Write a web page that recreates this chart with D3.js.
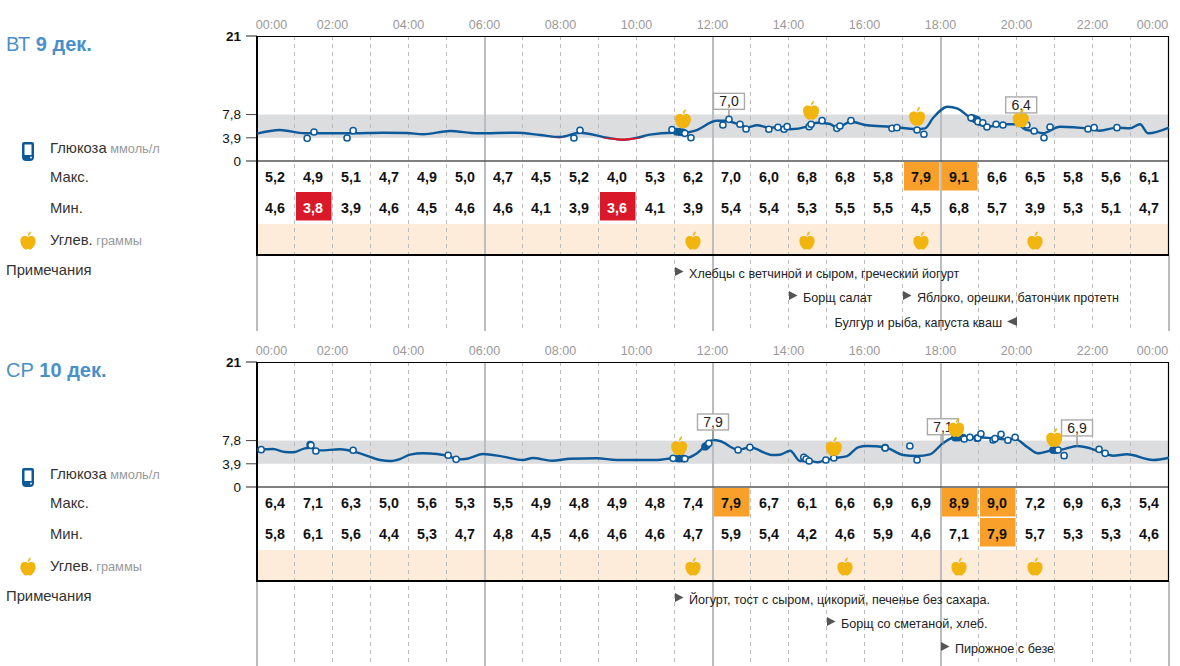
<!DOCTYPE html>
<html><head><meta charset="utf-8">
<script src="https://cdn.jsdelivr.net/npm/d3@7/dist/d3.min.js"></script>
<style>
html,body{margin:0;padding:0;background:#fff;overflow:hidden}
text{font-family:"Liberation Sans",Arial,sans-serif}
</style></head><body><svg id="c" width="1180" height="666"></svg>
<script>
const timeLabels=["00:00","02:00","04:00","06:00","08:00","10:00","12:00","14:00","16:00","18:00","20:00","22:00","00:00"];
const yTicks=[{v:21,t:"21",b:true},{v:7.8,t:"7,8"},{v:3.9,t:"3,9"},{v:0,t:"0"}];

const dayA="ВТ", dateA="9 дек.";
const maxA=[5.2,4.9,5.1,4.7,4.9,5.0,4.7,4.5,5.2,4.0,5.3,6.2,7.0,6.0,6.8,6.8,5.8,7.9,9.1,6.6,6.5,5.8,5.6,6.1];
const minA=[4.6,3.8,3.9,4.6,4.5,4.6,4.6,4.1,3.9,3.6,4.1,3.9,5.4,5.4,5.3,5.5,5.5,4.5,6.8,5.7,3.9,5.3,5.1,4.7];
const lineA=[[0,4.59],[.6,5.2],[1.26,4.65],[1.84,4.65],[2.45,4.65],[3.32,4.75],[3.95,4.7],[4.37,4.49],[5.08,5.04],[5.79,4.65],[6.84,4.75],[7.45,4.37],[7.97,4.03],[8.5,4.75],[9.21,3.91],[9.63,3.58],[10,3.91],[10.34,4.42],[10.95,4.75],[11.26,4.75],[11.53,5.09],[12.1,6.77],[12.32,6.77],[12.71,6.05],[12.89,5.66],[13.16,6.0],[13.47,5.6],[13.71,5.66],[14.03,5.33],[14.47,5.76],[14.74,6.43],[15.08,6.22],[15.26,5.6],[15.63,6.6],[16.05,6.0],[16.66,5.76],[17.37,5.38],[17.58,5.49],[17.79,7.22],[18.18,9.12],[18.42,8.85],[18.76,7.27],[19.03,6.05],[19.21,5.76],[19.63,6.17],[20,6.17],[20.21,5.33],[20.42,5.04],[20.68,4.65],[21.13,5.76],[21.84,5.49],[22.18,5.09],[22.63,5.6],[22.97,5.49],[23.24,6.17],[23.45,4.65],[24,5.6]];
const readingsA=[[1.32,3.81],[1.5,4.87],[2.37,3.86],[2.53,5.09],[8.34,3.86],[8.5,5.16],[10.92,5.26],[11.26,4.65],[11.42,3.91],[12.26,6.05],[12.42,7.0],[12.71,6.17],[12.87,5.38],[13.47,5.33],[13.71,5.66],[13.87,5.33],[13.95,5.76],[14.53,5.76],[14.58,6.17],[14.87,6.77],[15.26,5.49],[15.34,5.88],[15.63,6.77],[16.71,5.49],[16.84,5.6],[17.37,5.21],[17.55,4.49],[18.79,7.27],[18.97,6.6],[19.1,6.43],[19.21,5.71],[19.45,6.17],[19.63,6.05],[20.26,6.05],[20.45,5.04],[20.71,3.91],[20.87,5.71],[21.87,5.38],[22.03,5.6],[22.63,5.6]];
const scansA=[[11.05,4.92],[11.13,4.87],[11.21,4.82],[18.82,7.22],[18.89,7.06],[18.95,6.89]];
const calloutsA=[[12.42,7.0,"7,0"],[20.11,6.4,"6,4"]];
const mealsA=[[11.21,7.2],[14.58,8.6],[17.37,7.6],[20.1,7.3]];
const carbColsA=[11,14,17,20];
const notesA=[[11,1,"Хлебцы с ветчиной и сыром, греческий йогурт",0],[14,2,"Борщ салат",0],[17,2,"Яблоко, орешки, батончик протетн",0],[20,3,"Булгур и рыба, капуста кваш",1]];

const dayB="СР", dateB="10 дек.";
const maxB=[6.4,7.1,6.3,5.0,5.6,5.3,5.5,4.9,4.8,4.9,4.8,7.4,7.9,6.7,6.1,6.6,6.9,6.9,8.9,9.0,7.2,6.9,6.3,5.4];
const minB=[5.8,6.1,5.6,4.4,5.3,4.7,4.8,4.5,4.6,4.6,4.6,4.7,5.9,5.4,4.2,4.6,5.9,4.6,7.1,7.9,5.7,5.3,5.3,4.6];
const lineB=[[0,6.2],[.42,6.38],[.74,5.88],[.95,5.83],[1.26,6.5],[1.39,6.6],[1.66,6.16],[2.18,6.33],[2.71,5.66],[3.24,4.54],[3.5,4.37],[3.76,4.7],[4.03,5.43],[4.37,5.66],[4.74,5.54],[5.08,5.1],[5.29,4.65],[5.53,4.75],[5.95,5.54],[6.47,5.1],[7,4.54],[7.26,4.87],[7.76,4.42],[8.24,4.75],[8.95,4.82],[9.47,4.54],[10.08,4.54],[10.53,4.54],[10.95,4.82],[11.26,4.82],[11.58,5.66],[11.84,7.17],[12,7.9],[12.18,7.73],[12.66,6.22],[12.97,6.67],[13.55,5.38],[13.76,5.43],[14.03,6.1],[14.29,4.37],[14.55,4.37],[14.76,4.15],[14.97,4.54],[15.16,4.82],[15.53,5.2],[15.82,6.67],[16.05,6.89],[16.53,6.67],[17,5.38],[17.37,5.2],[17.71,5.49],[18.05,7.34],[18.37,8.35],[18.58,8.18],[18.97,8.35],[19.37,8.18],[19.74,8.01],[19.95,8.06],[20.26,6.77],[20.55,5.66],[20.95,6.22],[21.21,6.33],[21.58,6.89],[21.87,6.6],[22.18,5.93],[22.53,5.26],[22.89,5.49],[23.58,4.54],[24,4.92]];
const readingsB=[[.11,6.27],[1.42,7.0],[1.55,6.05],[2.53,6.17],[5.03,5.33],[5.24,4.65],[10.95,4.82],[11.26,4.75],[11.89,7.34],[12.66,6.22],[12.97,6.67],[14.39,4.99],[14.45,4.7],[14.53,4.37],[14.97,4.54],[15.18,4.87],[16.53,6.55],[17.18,6.89],[17.37,4.54],[18.61,8.06],[18.76,8.35],[18.97,8.23],[19.05,8.95],[19.37,7.9],[19.42,8.12],[19.58,8.85],[19.76,7.85],[19.95,8.35],[21.08,6.22],[21.24,5.26],[22.16,6.33],[22.32,5.66]];
const scansB=[[1.4,7.1],[11.08,4.8],[11.13,4.8],[11.21,4.8],[11.79,6.77],[11.84,7.0],[16.53,6.6],[18.37,8.3],[18.45,8.3],[18.58,8.3],[18.95,8.2],[20.95,6.2],[21.03,6.2]];
const calloutsB=[[12,7.9,"7,9"],[18.05,7.1,"7,1"],[21.58,6.9,"6,9"]];
const mealsB=[[11.11,7.0],[15.18,6.9],[18.4,10.1],[20.98,8.4]];
const carbColsB=[11,15,18,20];
const notesB=[[11,1,"Йогурт, тост с сыром, цикорий, печенье без сахара.",0],[15,2,"Борщ со сметаной, хлеб.",0],[18,3,"Пирожное с безе",0]];

const colLine="#0d5a9a", colTitle="#4a90c8", colOrange="#f9a02a", colRed="#d9192a", colApple="#f2b50f";
const applePath="M0,-3C-2,-5 -8,-5 -8,1C-8,6 -4,10 -2,10C-1,10 -1,9.5 0,9.5C1,9.5 1,10 2,10C4,10 8,6 8,1C8,-5 2,-5 0,-3ZM-.3,-4C-.3,-7 1.3,-8.5 3,-9C3,-7 1.8,-5 -.3,-4Z";
const fmt=v=>v.toFixed(1).replace(".",",");
const svg=d3.select("#c");
const x=d3.scaleLinear().domain([0,24]).range([257,1169]);

function apple(g,cx,cy,s){g.append("path").attr("d",applePath).attr("fill",colApple).attr("transform",`translate(${cx},${cy}) scale(${s||1})`);}

function panel(id,off,bottom,day,date,maxV,minV,line,readings,scans,callouts,meals,carbCols,notes){
  const g=svg.append("g").attr("transform",`translate(0,${off})`);
  const y=d3.scaleLinear().domain([0,21]).range([161,36]);
  const H=bottom-off;
  const t=g.append("text").attr("x",6).attr("y",51).attr("font-size",20).attr("fill",colTitle);
  t.append("tspan").text(day+" ");
  t.append("tspan").attr("font-weight","bold").text(date);
  const lab=(yy,txt,unit,xx)=>{const l=g.append("text").attr("x",xx||50).attr("y",yy).attr("dy",".35em").attr("font-size",14.8).attr("fill","#333").text(txt);
    if(unit)l.append("tspan").attr("font-size",12.8).attr("fill","#999").text(" "+unit);};
  lab(148,"Глюкоза","ммоль/л");lab(177,"Макс.");lab(208,"Мин.");lab(240,"Углев.","граммы");lab(270,"Примечания",null,6);
  const ph=g.append("g").attr("fill",colLine);
  ph.append("path").attr("d","M24,142H32Q34,142 34,144V157Q34,161 30,161H26Q22,161 22,157V144Q22,142 24,142ZM24.5,144.5V155H31.5V144.5Z").attr("fill-rule","evenodd");
  g.append("circle").attr("cx",31).attr("cy",157.5).attr("r",.9).attr("fill","#fff");
  apple(g,28,240,.95);
  g.append("rect").attr("x",x(0)).attr("width",x(24)-x(0)).attr("y",y(7.8)).attr("height",y(3.9)-y(7.8)).attr("fill","#dcdddf");
  g.append("rect").attr("x",x(0)).attr("width",x(24)-x(0)).attr("y",224).attr("height",30).attr("fill","#fcecd9");
  d3.range(1,24).forEach(h=>{ if(h%6) g.append("line").attr("x1",x(h)-.5).attr("x2",x(h)-.5).attr("y1",36).attr("y2",H).attr("stroke","#bbb").attr("stroke-dasharray","4,4"); });
  [0,6,12,18,24].forEach(h=>g.append("line").attr("x1",x(h)).attr("x2",x(h)).attr("y1",h%24?36:255).attr("y2",H).attr("stroke","#bcbdc0").attr("stroke-width",2));
  timeLabels.forEach((s,i)=>{const px=Math.max(272,Math.min(1153,x(i*2)));
    g.append("text").attr("x",px-.5).attr("y",25).attr("dy",".35em").attr("text-anchor","middle").attr("font-size",12.5).attr("fill","#999").text(s);});
  yTicks.forEach(d=>{
    g.append("text").attr("x",241).attr("y",y(d.v)).attr("dy",".35em").attr("text-anchor","end").attr("font-size",d.b?13.5:13.5).attr("font-weight",d.b?"bold":"normal").attr("fill","#111").text(d.t);
    g.append("line").attr("x1",246).attr("x2",257).attr("y1",y(d.v)).attr("y2",y(d.v)).attr("stroke",d.v==0||d.v==21?"#222":"#444");
  });
  g.append("line").attr("x1",257).attr("x2",1169).attr("y1",y(21)+.5).attr("y2",y(21)+.5).attr("stroke","#000").attr("stroke-width",1.2);
  g.append("line").attr("x1",257).attr("x2",1169).attr("y1",y(0)).attr("y2",y(0)).attr("stroke","#555").attr("stroke-width",1.5);
  g.append("line").attr("x1",1168.5).attr("x2",1168.5).attr("y1",36).attr("y2",255).attr("stroke","#000").attr("stroke-width",1.2);
  g.append("line").attr("x1",257).attr("x2",257).attr("y1",36).attr("y2",256).attr("stroke","#000").attr("stroke-width",2);
  g.append("line").attr("x1",256).attr("x2",1169).attr("y1",255).attr("y2",255).attr("stroke","#000").attr("stroke-width",2);
  const cellW=x(1)-x(0);
  const row=(vals,top,ty,test)=>vals.forEach((v,i)=>{
    const c=test(v);
    if(c) g.append("rect").attr("x",x(i)+1).attr("y",top).attr("width",cellW-2.5).attr("height",28.5).attr("fill",c);
    g.append("text").attr("x",x(i)+cellW/2-1).attr("y",ty).attr("dy",".35em").attr("text-anchor","middle").attr("font-size",14.3).attr("font-weight","bold").attr("fill",c==colRed?"#fff":"#111").text(fmt(v));
  });
  const rule=v=>v<3.9?colRed:(v>=7.8?colOrange:null);
  row(maxV,162,177,rule);row(minV,192,208,rule);
  carbCols.forEach(c=>apple(g,x(c)+cellW/2-1,240,.95));
  const ln=d3.line().x(d=>x(d[0])).y(d=>y(d[1])).curve(d3.curveMonotoneX);
  g.append("clipPath").attr("id","low"+id).append("rect").attr("x",257).attr("width",912).attr("y",y(3.9)).attr("height",y(0)-y(3.9));
  g.append("path").attr("d",ln(line)).attr("fill","none").attr("stroke",colLine).attr("stroke-width",2.4);
  g.append("path").attr("d",ln(line)).attr("fill","none").attr("stroke",colRed).attr("stroke-width",2.4).attr("clip-path",`url(#low${id})`);
  callouts.forEach(c=>{
    const px=x(c[0]),py=y(c[1]);
    g.append("line").attr("x1",px).attr("x2",px).attr("y1",py-10).attr("y2",py).attr("stroke","#888").attr("stroke-width",1.2);
    g.append("rect").attr("x",px-15.5).attr("y",py-26).attr("width",31).attr("height",16).attr("fill","#fff").attr("stroke","#aaa").attr("stroke-width",1.4);
    g.append("text").attr("x",px).attr("y",py-18).attr("dy",".35em").attr("text-anchor","middle").attr("font-size",14).attr("fill","#222").text(c[2]);
  });
  scans.forEach(d=>g.append("circle").attr("cx",x(d[0])).attr("cy",y(d[1])).attr("r",3.9).attr("fill",colLine));
  readings.forEach(d=>g.append("circle").attr("cx",x(d[0])).attr("cy",y(d[1])).attr("r",3.1).attr("fill","#fff").attr("stroke",colLine).attr("stroke-width",1.5));
  meals.forEach(d=>apple(g,x(d[0]),y(d[1]),1));
  const rowY=[0,274,298,323];
  notes.forEach(n=>{
    const px=x(n[0]), ry=rowY[n[1]];
    if(n[3]){
      g.append("path").attr("d",`M${px},${ry-6}L${px-10},${ry-1.5}L${px},${ry+3}Z`).attr("fill","#555");
      g.append("text").attr("x",px-15).attr("y",ry).attr("dy",".35em").attr("text-anchor","end").attr("font-size",12.6).attr("fill","#222").text(n[2]);
    }else{
      g.append("path").attr("d",`M${px},${ry-7}L${px+8.5},${ry-2.5}L${px},${ry+2}Z`).attr("fill","#555");
      g.append("text").attr("x",px+14).attr("y",ry).attr("dy",".35em").attr("font-size",12.6).attr("fill","#222").text(n[2]);
    }
  });
}
panel("A",0,331,dayA,dateA,maxA,minA,lineA,readingsA,scansA,calloutsA,mealsA,carbColsA,notesA);
panel("B",326,666,dayB,dateB,maxB,minB,lineB,readingsB,scansB,calloutsB,mealsB,carbColsB,notesB);
</script></body></html>
